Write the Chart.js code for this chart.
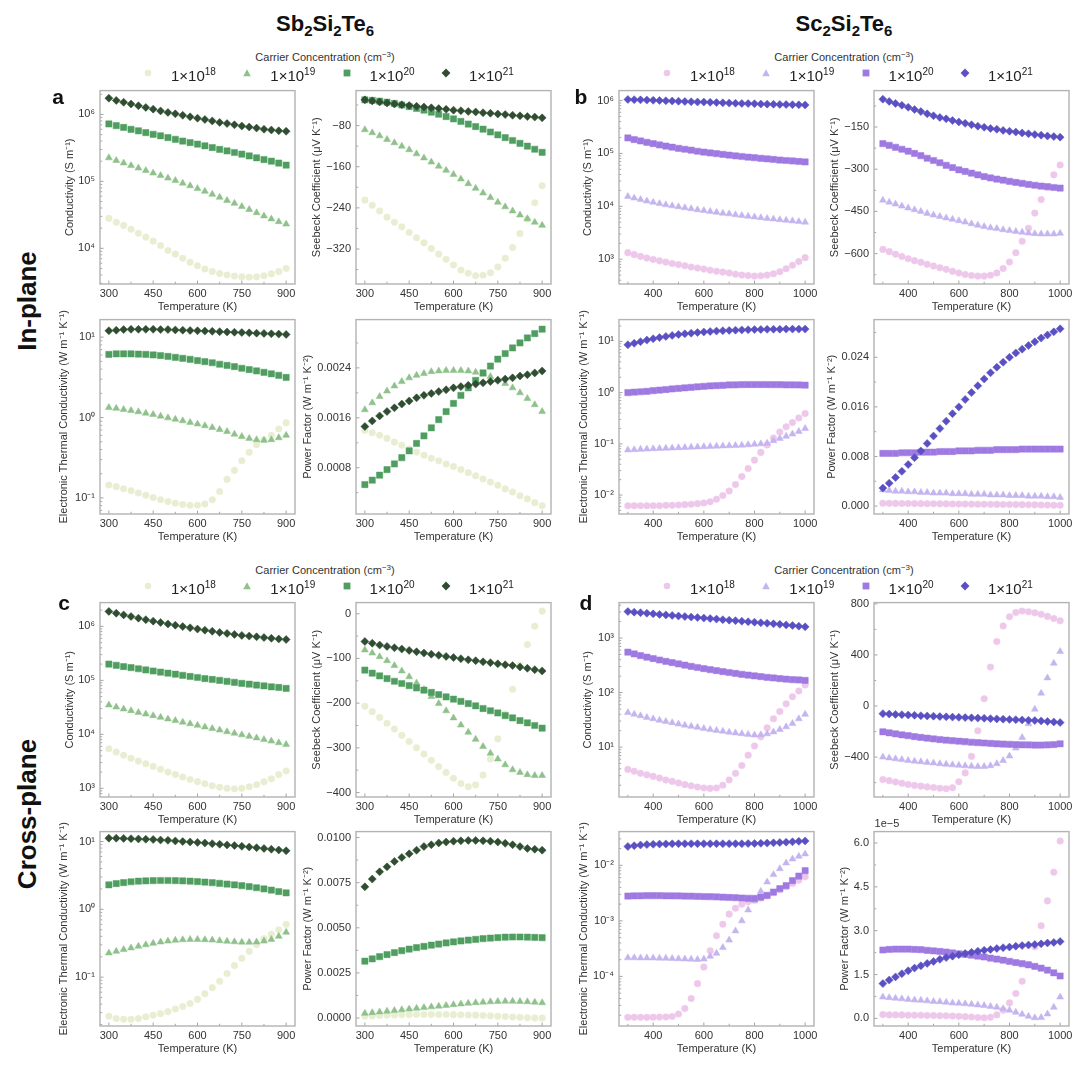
<!DOCTYPE html>
<html><head><meta charset="utf-8">
<script src="https://cdn.jsdelivr.net/npm/chart.js"></script>
<style>
body{margin:0;background:#fff;width:1080px;height:1070px;position:relative;overflow:hidden;font-family:"Liberation Sans",Arial,sans-serif;}
canvas{position:absolute;}
.t{position:absolute;white-space:nowrap;color:#111;transform:translate(-50%,-50%);line-height:1;}
.ttl{font-weight:bold;font-size:22px;}
.ttl sub{font-size:15px;vertical-align:-5px;line-height:0;}
.row{font-weight:bold;font-size:26px;transform:translate(-50%,-50%) rotate(-90deg);}
.let{font-weight:bold;font-size:21px;}
.lt{font-size:11px;color:#333;}
.lt sup{font-size:8px;vertical-align:4px;line-height:0;}
.le{position:absolute;font-size:15px;color:#222;white-space:nowrap;transform:translateY(-50%);line-height:1;}
.le sup{font-size:10px;vertical-align:6px;line-height:0;}
.lm{position:absolute;transform:translate(-50%,-50%);}
</style></head><body>
<script>
// ---------------- data ----------------
const tempSb = [300,325,350,375,400,425,450,475,500,525,550,575,600,625,650,675,700,725,750,775,800,825,850,875,900];
const tempSc = [300,325,350,375,400,425,450,475,500,525,550,575,600,625,650,675,700,725,750,775,800,825,850,875,900,925,950,975,1000];
const sbTempTicks = [300,450,600,750,900];
const scTempTicks = [400,600,800,1000];
const carrierExps = [18,19,20,21];

// (a) Sb2Si2Te6 in-plane
const sbInCond18 = [2.8e4,2.45e4,2.2e4,1.93e4,1.68e4,1.47e4,1.28e4,1.1e4,9.3e3,8.2e3,7.1e3,6.2e3,5.5e3,4.9e3,4.5e3,4.2e3,4.0e3,3.85e3,3.75e3,3.7e3,3.75e3,3.9e3,4.15e3,4.5e3,5.0e3];
const sbInCond19 = [2.25e5,2.05e5,1.88e5,1.72e5,1.58e5,1.45e5,1.33e5,1.22e5,1.12e5,1.03e5,9.4e4,8.6e4,7.8e4,7.1e4,6.4e4,5.8e4,5.2e4,4.7e4,4.2e4,3.8e4,3.4e4,3.05e4,2.75e4,2.5e4,2.3e4];
const sbInCond20 = [7.2e5,6.8e5,6.4e5,6.0e5,5.7e5,5.35e5,5.05e5,4.8e5,4.5e5,4.25e5,4.0e5,3.8e5,3.6e5,3.4e5,3.2e5,3.0e5,2.85e5,2.7e5,2.55e5,2.4e5,2.25e5,2.12e5,2.0e5,1.88e5,1.75e5];
const sbInCond21 = [1.75e6,1.62e6,1.52e6,1.43e6,1.35e6,1.27e6,1.2e6,1.13e6,1.07e6,1.02e6,9.7e5,9.2e5,8.8e5,8.4e5,8.0e5,7.6e5,7.3e5,7.0e5,6.7e5,6.5e5,6.25e5,6.0e5,5.85e5,5.7e5,5.6e5];
const sbInSeeb18 = [-225,-235,-246,-258,-268,-277,-288,-298,-308,-319,-330,-340,-351,-361,-367,-372,-371,-366,-355,-338,-317,-290,-262,-230,-197];
const sbInSeeb19 = [-88,-94,-100,-107,-113.5,-120,-127,-135,-143,-151,-159,-167,-175,-184,-193,-202,-211,-220,-229,-238,-246,-254,-261,-268,-274];
const sbInSeeb20 = [-30,-31,-32.5,-34.5,-37,-40,-43,-46.5,-50,-54,-58,-62.5,-67,-72,-77,-82,-87,-92.5,-98,-103.5,-109,-114.5,-120,-126,-132];
const sbInSeeb21 = [-30,-32,-34,-36,-38,-39.5,-41,-42.5,-44,-45.5,-47,-48.5,-50,-51,-52.5,-53.5,-55,-56,-57.5,-58.5,-60,-61,-62.5,-63.5,-65];
const sbInKe18 = [0.145,0.138,0.13,0.123,0.115,0.108,0.101,0.095,0.09,0.086,0.083,0.081,0.081,0.084,0.095,0.12,0.17,0.22,0.29,0.37,0.46,0.53,0.6,0.72,0.86];
const sbInKe19 = [1.33,1.30,1.26,1.22,1.18,1.13,1.09,1.04,0.99,0.95,0.91,0.87,0.83,0.79,0.75,0.71,0.67,0.62,0.58,0.55,0.53,0.52,0.53,0.56,0.60];
const sbInKe20 = [6.1,6.2,6.2,6.2,6.15,6.1,6.0,5.9,5.75,5.6,5.45,5.3,5.1,4.95,4.8,4.6,4.45,4.3,4.1,3.95,3.8,3.65,3.5,3.35,3.15];
const sbInKe21 = [12.0,12.2,12.4,12.5,12.5,12.5,12.5,12.4,12.4,12.3,12.2,12.1,12.0,11.9,11.8,11.7,11.6,11.5,11.4,11.3,11.2,11.1,11.0,10.9,10.8];
const sbInPf18 = [0.00140,0.00136,0.00132,0.00127,0.00121,0.00116,0.00110,0.00105,0.00100,0.00095,0.00091,0.00086,0.00082,0.00077,0.00072,0.00067,0.00062,0.00057,0.00052,0.00046,0.00041,0.00035,0.00030,0.00024,0.00019];
const sbInPf19 = [0.00173,0.00184,0.00194,0.00203,0.00211,0.00218,0.00224,0.00228,0.00231,0.00234,0.00235,0.00236,0.00236,0.00236,0.00235,0.00233,0.00230,0.00226,0.00221,0.00215,0.00208,0.00200,0.00191,0.00181,0.00170];
const sbInPf20 = [0.00053,0.00060,0.00068,0.00077,0.00086,0.00096,0.00107,0.00119,0.00131,0.00144,0.00157,0.00170,0.00183,0.00196,0.00208,0.00220,0.00232,0.00243,0.00254,0.00263,0.00272,0.00280,0.00288,0.00295,0.00302];
const sbInPf21 = [0.00146,0.00155,0.00163,0.00170,0.00176,0.00182,0.00187,0.00192,0.00196,0.00199,0.00202,0.00205,0.00208,0.00210,0.00212,0.00214,0.00216,0.00218,0.00220,0.00222,0.00224,0.00227,0.00229,0.00232,0.00235];

// (b) Sc2Si2Te6 in-plane
const scInCond18 = [1.33e3,1.22e3,1.13e3,1.05e3,9.9e2,9.3e2,8.8e2,8.3e2,7.9e2,7.5e2,7.1e2,6.8e2,6.5e2,6.2e2,5.9e2,5.7e2,5.5e2,5.2e2,5.0e2,4.9e2,4.8e2,4.85e2,5.0e2,5.3e2,5.8e2,6.6e2,7.7e2,9.0e2,1.07e3];
const scInCond19 = [1.54e4,1.43e4,1.34e4,1.26e4,1.19e4,1.13e4,1.07e4,1.02e4,9.8e3,9.4e3,9.0e3,8.6e3,8.3e3,8.0e3,7.7e3,7.4e3,7.2e3,6.9e3,6.7e3,6.5e3,6.3e3,6.1e3,5.9e3,5.75e3,5.6e3,5.45e3,5.3e3,5.15e3,5.0e3];
const scInCond20 = [1.96e5,1.83e5,1.72e5,1.62e5,1.53e5,1.45e5,1.38e5,1.31e5,1.25e5,1.2e5,1.15e5,1.1e5,1.06e5,1.02e5,9.9e4,9.6e4,9.3e4,9.0e4,8.75e4,8.5e4,8.3e4,8.1e4,7.9e4,7.7e4,7.5e4,7.35e4,7.2e4,7.05e4,6.9e4];
const scInCond21 = [1.05e6,1.04e6,1.03e6,1.02e6,1.01e6,1.0e6,9.9e5,9.8e5,9.7e5,9.6e5,9.5e5,9.4e5,9.35e5,9.25e5,9.15e5,9.05e5,8.95e5,8.9e5,8.8e5,8.75e5,8.7e5,8.6e5,8.55e5,8.5e5,8.45e5,8.4e5,8.35e5,8.3e5,8.25e5];
const scInSeeb18 = [-585,-593,-602,-610,-618,-625,-631,-638,-644,-650,-656,-663,-669,-674,-678,-680,-680,-677,-669,-653,-630,-597,-556,-510,-456,-408,-365,-320,-285];
const scInSeeb19 = [-410,-417,-424,-431,-438,-444,-450,-457,-463,-468,-473,-478,-483,-488,-494,-499,-504,-508,-511,-515,-518,-521,-524,-527,-529,-530,-530,-530,-528];
const scInSeeb20 = [-209,-215,-222,-229,-236,-244,-252,-261,-269,-277,-286,-294,-302,-308,-314,-320,-326,-331,-335,-339,-343,-347,-350,-354,-357,-360,-362,-365,-367];
const scInSeeb21 = [-51,-59,-66,-73,-80,-88,-95,-103,-110,-116,-121,-127,-132,-137,-142,-147,-151,-155,-158,-162,-165,-168,-171,-174,-177,-179,-182,-184,-186];
const scInKe18 = [0.0062,0.0062,0.0062,0.0062,0.0062,0.0062,0.0063,0.0063,0.0064,0.0065,0.0066,0.0068,0.007,0.0074,0.0083,0.0098,0.012,0.016,0.023,0.033,0.048,0.068,0.095,0.13,0.17,0.215,0.26,0.32,0.39];
const scInKe19 = [0.076,0.077,0.078,0.079,0.080,0.081,0.082,0.083,0.084,0.085,0.086,0.087,0.088,0.089,0.090,0.091,0.092,0.093,0.094,0.096,0.098,0.100,0.103,0.115,0.127,0.14,0.155,0.175,0.2];
const scInKe20 = [1.0,1.02,1.04,1.06,1.09,1.12,1.15,1.18,1.21,1.24,1.27,1.30,1.33,1.35,1.37,1.39,1.41,1.42,1.43,1.44,1.44,1.44,1.44,1.43,1.43,1.42,1.42,1.41,1.40];
const scInKe21 = [8.6,9.2,9.9,10.6,11.3,11.9,12.5,13.1,13.6,14.1,14.5,14.9,15.3,15.6,15.9,16.2,16.4,16.6,16.8,16.9,17.0,17.1,17.2,17.3,17.3,17.4,17.4,17.4,17.4];
const scInPf18 = [0.00045,0.00044,0.00043,0.00042,0.00041,0.0004,0.00039,0.00038,0.00037,0.00036,0.00035,0.00034,0.00033,0.00032,0.00031,0.0003,0.00029,0.00028,0.00027,0.00026,0.00025,0.00024,0.00023,0.00021,0.0002,0.00018,0.00016,0.00014,0.00012];
const scInPf19 = [0.0026,0.0025,0.0024,0.0024,0.0023,0.0023,0.0022,0.0022,0.0021,0.0021,0.0021,0.0020,0.0020,0.0020,0.0019,0.0019,0.0019,0.0018,0.0018,0.0018,0.0017,0.0017,0.0017,0.0016,0.0016,0.0016,0.0015,0.0015,0.0014];
const scInPf20 = [0.0085,0.0085,0.0085,0.0086,0.0086,0.0086,0.0087,0.0087,0.0087,0.0088,0.0088,0.0088,0.0089,0.0089,0.0089,0.0090,0.0090,0.0090,0.0091,0.0091,0.0091,0.0091,0.0092,0.0092,0.0092,0.0092,0.0092,0.0092,0.0092];
const scInPf21 = [0.0029,0.0037,0.0046,0.0056,0.0067,0.0078,0.0089,0.0101,0.0113,0.0125,0.0137,0.0149,0.0160,0.0172,0.0183,0.0194,0.0205,0.0215,0.0224,0.0232,0.0240,0.0247,0.0253,0.0259,0.0265,0.0271,0.0276,0.0281,0.0286];

// (c) Sb2Si2Te6 cross-plane
const sbCrCond18 = [5.4e3,4.7e3,4.1e3,3.6e3,3.2e3,2.85e3,2.55e3,2.25e3,2.0e3,1.8e3,1.62e3,1.46e3,1.33e3,1.22e3,1.12e3,1.05e3,1.0e3,9.8e2,1.0e3,1.07e3,1.17e3,1.32e3,1.5e3,1.8e3,2.1e3];
const sbCrCond19 = [3.5e4,3.2e4,2.95e4,2.75e4,2.55e4,2.38e4,2.22e4,2.07e4,1.93e4,1.8e4,1.68e4,1.57e4,1.47e4,1.37e4,1.28e4,1.2e4,1.12e4,1.05e4,9.8e3,9.2e3,8.6e3,8.0e3,7.5e3,7.0e3,6.5e3];
const sbCrCond20 = [2.0e5,1.9e5,1.8e5,1.72e5,1.64e5,1.56e5,1.49e5,1.42e5,1.36e5,1.3e5,1.24e5,1.18e5,1.13e5,1.08e5,1.04e5,1.0e5,9.6e4,9.2e4,8.8e4,8.5e4,8.2e4,7.9e4,7.6e4,7.4e4,7.1e4];
const sbCrCond21 = [1.89e6,1.75e6,1.63e6,1.52e6,1.42e6,1.33e6,1.25e6,1.18e6,1.11e6,1.05e6,9.9e5,9.4e5,8.9e5,8.5e5,8.1e5,7.7e5,7.4e5,7.1e5,6.8e5,6.6e5,6.4e5,6.2e5,6.0e5,5.85e5,5.7e5];
const sbCrSeeb18 = [-207,-219,-232,-245,-258,-272,-286,-300,-314,-328,-342,-355,-368,-380,-387,-383,-361,-325,-280,-224,-169,-115,-69,-28,6];
const sbCrSeeb19 = [-81,-88,-96,-105,-116,-128,-141,-155,-170,-185,-201,-217,-233,-249,-265,-281,-297,-312,-325,-338,-349,-355,-360,-362,-362];
const sbCrSeeb20 = [-126,-133,-139,-145,-151,-156,-161,-166,-171,-176,-181,-186,-191,-196,-201,-206,-212,-217,-222,-228,-233,-239,-244,-250,-256];
const sbCrSeeb21 = [-62,-66,-70,-73,-76,-79,-82,-85,-88,-90.5,-93,-95.5,-98,-100.5,-103,-105,-107.5,-109.5,-112,-114,-116,-119,-122,-125,-128];
const sbCrKe18 = [0.0265,0.0245,0.024,0.024,0.0245,0.026,0.0275,0.029,0.031,0.034,0.037,0.041,0.047,0.057,0.07,0.087,0.113,0.148,0.19,0.24,0.3,0.37,0.43,0.5,0.6];
const sbCrKe19 = [0.227,0.24,0.255,0.27,0.285,0.3,0.315,0.33,0.34,0.35,0.356,0.36,0.36,0.357,0.352,0.345,0.338,0.332,0.328,0.327,0.33,0.34,0.36,0.4,0.46];
const sbCrKe20 = [2.3,2.4,2.48,2.55,2.6,2.63,2.65,2.66,2.66,2.65,2.63,2.6,2.56,2.52,2.47,2.42,2.36,2.3,2.23,2.16,2.08,2.0,1.92,1.83,1.75];
const sbCrKe21 = [11.2,11.2,11.1,11.0,10.9,10.8,10.7,10.5,10.4,10.2,10.0,9.85,9.7,9.5,9.3,9.1,8.9,8.7,8.5,8.3,8.1,7.9,7.7,7.5,7.3];
const sbCrPf18 = [0.0001,0.00012,0.00014,0.00016,0.00017,0.00018,0.00019,0.0002,0.0002,0.0002,0.0002,0.0002,0.00019,0.00018,0.00017,0.00016,0.00014,0.00012,0.0001,0.00008,0.00006,0.00004,0.00002,0.00001,0.0];
const sbCrPf19 = [0.00026,0.0003,0.00034,0.00038,0.00042,0.00046,0.0005,0.00054,0.00058,0.00062,0.00066,0.0007,0.00074,0.00078,0.00082,0.00085,0.00088,0.0009,0.00092,0.00093,0.00093,0.00092,0.0009,0.00088,0.00085];
const sbCrPf20 = [0.00315,0.00328,0.0034,0.00352,0.00363,0.00373,0.00382,0.0039,0.00397,0.00404,0.0041,0.00416,0.00422,0.00427,0.00432,0.00436,0.0044,0.00443,0.00446,0.00448,0.00449,0.00449,0.00448,0.00447,0.00445];
const sbCrPf21 = [0.00727,0.0077,0.0081,0.00838,0.00868,0.0089,0.0091,0.0093,0.0095,0.0096,0.0097,0.00975,0.0098,0.00982,0.00984,0.00984,0.00982,0.0098,0.00975,0.00968,0.0096,0.0095,0.0094,0.00935,0.0093];

// (d) Sc2Si2Te6 cross-plane
const scCrCond18 = [3.9,3.6,3.3,3.1,2.9,2.7,2.5,2.35,2.2,2.05,1.95,1.85,1.78,1.75,1.78,2.0,2.5,3.3,4.6,7.1,10.5,15.4,22.6,33,45,62,84,107,138];
const scCrCond19 = [43,40,37.5,35,33,31,29.5,28,26.5,25.2,24,23,22,21,20.2,19.5,18.8,18.2,17.6,17.1,16.6,16.8,17.5,19,21,23.5,27,33,40];
const scCrCond20 = [550,510,475,445,420,395,373,353,335,318,302,288,275,263,252,242,233,224,216,209,202,196,190,185,180,176,172,170,167];
const scCrCond21 = [3050,2980,2910,2840,2770,2710,2650,2590,2530,2470,2420,2370,2320,2270,2220,2170,2120,2080,2030,1990,1950,1900,1860,1820,1780,1740,1700,1650,1600];
const scCrSeeb18 = [-576,-585,-595,-605,-615,-622,-628,-634,-639,-645,-648,-640,-594,-524,-395,-194,57,305,505,627,699,733,744,738,730,718,702,685,668];
const scCrSeeb19 = [-400,-407,-414,-420,-427,-432,-437,-442,-447,-452,-457,-461,-465,-469,-472,-474,-474,-468,-452,-428,-392,-330,-246,-140,-25,100,220,335,427];
const scCrSeeb20 = [-202,-210,-218,-226,-233,-240,-246,-252,-258,-263,-268,-272,-276,-280,-284,-287,-290,-293,-296,-298,-300,-302,-304,-305,-306,-306,-305,-302,-296];
const scCrSeeb21 = [-60,-63,-66,-68,-71,-73,-76,-78,-80,-83,-85,-87,-89,-91,-93,-95,-97,-99,-101,-103,-105,-107,-109,-112,-114,-117,-121,-125,-130];
const scCrKe18 = [1.83e-5,1.83e-5,1.83e-5,1.83e-5,1.84e-5,1.85e-5,1.86e-5,1.9e-5,2.1e-5,2.65e-5,4.0e-5,7.4e-5,1.47e-4,2.9e-4,5.4e-4,8.7e-4,1.32e-3,1.69e-3,2.0e-3,2.2e-3,2.35e-3,2.55e-3,2.8e-3,3.2e-3,3.6e-3,4.1e-3,4.7e-3,5.4e-3,6.2e-3];
const scCrKe19 = [2.16e-4,2.16e-4,2.15e-4,2.15e-4,2.14e-4,2.13e-4,2.12e-4,2.1e-4,2.08e-4,2.06e-4,2.04e-4,2.02e-4,2.05e-4,2.3e-4,2.6e-4,3.3e-4,4.5e-4,6.6e-4,1.0e-3,1.57e-3,2.3e-3,3.4e-3,5.0e-3,6.8e-3,8.7e-3,1.1e-2,1.3e-2,1.45e-2,1.6e-2];
const scCrKe20 = [0.0028,0.00282,0.00283,0.00284,0.00284,0.00284,0.00283,0.00282,0.00281,0.0028,0.00278,0.00276,0.00274,0.00272,0.0027,0.00267,0.00264,0.00261,0.00258,0.00255,0.00254,0.00268,0.00288,0.0033,0.0038,0.0043,0.0053,0.0064,0.008];
const scCrKe21 = [0.0218,0.0226,0.0232,0.0236,0.0239,0.0241,0.0243,0.0244,0.0245,0.0245,0.0245,0.0245,0.0245,0.0245,0.0245,0.0245,0.0245,0.0245,0.0245,0.0246,0.0247,0.0249,0.0251,0.0254,0.0257,0.0261,0.0265,0.027,0.0275];
const scCrPf18 = [0.13e-5,0.12e-5,0.12e-5,0.12e-5,0.11e-5,0.11e-5,0.11e-5,0.1e-5,0.1e-5,0.09e-5,0.09e-5,0.08e-5,0.07e-5,0.06e-5,0.05e-5,0.03e-5,0.02e-5,0.04e-5,0.12e-5,0.28e-5,0.53e-5,0.85e-5,1.27e-5,1.85e-5,2.45e-5,3.17e-5,4.02e-5,5.0e-5,6.07e-5];
const scCrPf19 = [0.73e-5,0.71e-5,0.69e-5,0.67e-5,0.65e-5,0.63e-5,0.62e-5,0.6e-5,0.58e-5,0.57e-5,0.55e-5,0.53e-5,0.52e-5,0.5e-5,0.48e-5,0.46e-5,0.44e-5,0.41e-5,0.38e-5,0.33e-5,0.28e-5,0.21e-5,0.14e-5,0.07e-5,0.02e-5,0.03e-5,0.15e-5,0.38e-5,0.73e-5];
const scCrPf20 = [2.34e-5,2.36e-5,2.37e-5,2.37e-5,2.37e-5,2.36e-5,2.35e-5,2.33e-5,2.31e-5,2.29e-5,2.27e-5,2.24e-5,2.21e-5,2.19e-5,2.16e-5,2.13e-5,2.1e-5,2.06e-5,2.03e-5,1.99e-5,1.95e-5,1.91e-5,1.87e-5,1.83e-5,1.78e-5,1.72e-5,1.65e-5,1.56e-5,1.45e-5];
const scCrPf21 = [1.19e-5,1.31e-5,1.42e-5,1.53e-5,1.63e-5,1.72e-5,1.8e-5,1.88e-5,1.95e-5,2.02e-5,2.08e-5,2.13e-5,2.18e-5,2.22e-5,2.26e-5,2.3e-5,2.33e-5,2.36e-5,2.39e-5,2.42e-5,2.44e-5,2.47e-5,2.49e-5,2.51e-5,2.53e-5,2.55e-5,2.58e-5,2.6e-5,2.63e-5];

// y tick values
const condTicksA = [1e4,1e5,1e6];
const condTicksB = [1e3,1e4,1e5,1e6];
const condTicksC = [1e3,1e4,1e5,1e6];
const condTicksD = [10,100,1000];
const seebTicksA = [-320,-240,-160,-80];
const seebTicksB = [-600,-450,-300,-150];
const seebTicksC = [-400,-300,-200,-100,0];
const seebTicksD = [-400,0,400,800];
const keTicksA = [0.1,1,10];
const keTicksB = [0.01,0.1,1,10];
const keTicksC = [0.1,1,10];
const keTicksD = [1e-4,1e-3,1e-2];
const pfTicksA = [0.0008,0.0016,0.0024];
const pfTicksB = [0,0.008,0.016,0.024];
const pfTicksC = [0,0.0025,0.005,0.0075,0.01];
const pfTicksD = [0,1.5e-5,3e-5,4.5e-5,6e-5];

// ---------------- styling ----------------
const sbColors = ['#e8eed2','#8fc18b','#4f9e60','#2f4d31'];
const scColors = ['#eec8ea','#c4b4ef','#9e79e1','#5b50c3'];
const pStyles = ['circle','triangle','rect','rectRot'];
const pRadius = [3.3,4.0,4.4,4.0];
const FONT = {family:'"Liberation Sans", Arial, sans-serif', size:11};
const TXT = '#333';

const SUPM = {'-':'\u207b','0':'\u2070','1':'\u00b9','2':'\u00b2','3':'\u00b3','4':'\u2074','5':'\u2075','6':'\u2076','7':'\u2077','8':'\u2078','9':'\u2079'};
const sup = s => String(s).split('').map(c => SUPM[c] || c).join('');
const mns = s => String(s).replace('-', '\u2212');
const fmtLog = v => '10' + sup(Math.round(Math.log10(v)));
const fmtInt = v => mns(String(Math.round(v)));
const fmtFix = n => v => mns((Math.abs(v) < 1e-12 ? 0 : v).toFixed(n));
const fmtE5 = v => (v / 1e-5).toFixed(1);

const framePlugin = {
  id: 'frame',
  afterDatasetsDraw(chart) {
    const {ctx, chartArea: a, scales} = chart;
    const xs = scales.x, ys = scales.y;
    ctx.save();
    ctx.strokeStyle = '#9a9a9a'; ctx.lineWidth = 0.9;
    const tickX = (v, len) => { const p = xs.getPixelForValue(v); if (p < a.left + 0.5 || p > a.right - 0.5) return; ctx.beginPath(); ctx.moveTo(p, a.bottom); ctx.lineTo(p, a.bottom - len); ctx.stroke(); };
    const tickY = (v, len) => { const p = ys.getPixelForValue(v); if (p < a.top + 0.5 || p > a.bottom - 0.5) return; ctx.beginPath(); ctx.moveTo(a.left, p); ctx.lineTo(a.left + len, p); ctx.stroke(); };
    const minorLin = (ticks, lo, hi, f) => { const st = ticks[1] - ticks[0]; for (let v = ticks[0] - st / 2; v < hi; v += st) if (v > lo) f(v, 2.2); };
    xs.ticks.forEach(t => tickX(t.value, 3.5));
    minorLin(xs.ticks.map(t => t.value), xs.min, xs.max, tickX);
    ys.ticks.forEach(t => tickY(t.value, 3.5));
    if (ys.type === 'logarithmic') {
      for (let e = Math.floor(Math.log10(ys.min)); e <= Math.ceil(Math.log10(ys.max)); e++)
        for (let k = 2; k <= 9; k++) { const v = k * Math.pow(10, e); if (v > ys.min && v < ys.max) tickY(v, 2.2); }
    } else {
      minorLin(ys.ticks.map(t => t.value), ys.min, ys.max, tickY);
    }
    ctx.strokeStyle = '#b3b3b3'; ctx.lineWidth = 1.4;
    ctx.strokeRect(a.left, a.top, a.right - a.left, a.bottom - a.top);
    ctx.restore();
  }
};

const T_COND = 'Conductivity (S m\u207b\u00b9)';
const T_SEEB = 'Seebeck Coefficient (\u03bcV K\u207b\u00b9)';
const T_KE = 'Electronic Thermal Conductivity (W m\u207b\u00b9 K\u207b\u00b9)';
const T_PF = 'Power Factor (W m\u207b\u00b9 K\u207b\u00b2)';

const panels = [
  {L:100,T:89,H:195, sb:true, log:true, ymin:Math.pow(10,3.467), ymax:Math.pow(10,6.356), ticks:condTicksA, fmt:fmtLog, title:T_COND, off:30, s:[sbInCond18,sbInCond19,sbInCond20,sbInCond21]},
  {L:356,T:89,H:195, sb:true, log:false, ymin:-388, ymax:-12, ticks:seebTicksA, fmt:fmtInt, title:T_SEEB, off:39, s:[sbInSeeb18,sbInSeeb19,sbInSeeb20,sbInSeeb21]},
  {L:100,T:318,H:196, sb:true, log:true, ymin:Math.pow(10,-1.2), ymax:Math.pow(10,1.218), ticks:keTicksA, fmt:fmtLog, title:T_KE, off:36, s:[sbInKe18,sbInKe19,sbInKe20,sbInKe21]},
  {L:356,T:318,H:196, sb:true, log:false, ymin:0.000058, ymax:0.003174, ticks:pfTicksA, fmt:fmtFix(4), title:T_PF, off:48, s:[sbInPf18,sbInPf19,sbInPf20,sbInPf21]},
  {L:619,T:89,H:195, sb:false, log:true, ymin:Math.pow(10,2.531), ymax:Math.pow(10,6.188), ticks:condTicksB, fmt:fmtLog, title:T_COND, off:31, s:[scInCond18,scInCond19,scInCond20,scInCond21]},
  {L:874,T:89,H:195, sb:false, log:false, ymin:-708, ymax:-20.5, ticks:seebTicksB, fmt:fmtInt, title:T_SEEB, off:39, s:[scInSeeb18,scInSeeb19,scInSeeb20,scInSeeb21]},
  {L:619,T:318,H:196, sb:false, log:true, ymin:Math.pow(10,-2.37), ymax:Math.pow(10,1.426), ticks:keTicksB, fmt:fmtLog, title:T_KE, off:35, s:[scInKe18,scInKe19,scInKe20,scInKe21]},
  {L:874,T:318,H:196, sb:false, log:false, ymin:-0.00128, ymax:0.03008, ticks:pfTicksB, fmt:fmtFix(3), title:T_PF, off:42, s:[scInPf18,scInPf19,scInPf20,scInPf21]},
  {L:100,T:601,H:196, sb:true, log:true, ymin:Math.pow(10,2.84), ymax:Math.pow(10,6.44), ticks:condTicksC, fmt:fmtLog, title:T_COND, off:30, s:[sbCrCond18,sbCrCond19,sbCrCond20,sbCrCond21]},
  {L:356,T:601,H:196, sb:true, log:false, ymin:-410, ymax:25, ticks:seebTicksC, fmt:fmtInt, title:T_SEEB, off:39, s:[sbCrSeeb18,sbCrSeeb19,sbCrSeeb20,sbCrSeeb21]},
  {L:100,T:830,H:196, sb:true, log:true, ymin:Math.pow(10,-1.72), ymax:Math.pow(10,1.146), ticks:keTicksC, fmt:fmtLog, title:T_KE, off:36, s:[sbCrKe18,sbCrKe19,sbCrKe20,sbCrKe21]},
  {L:356,T:830,H:196, sb:true, log:false, ymin:-0.00044, ymax:0.01033, ticks:pfTicksC, fmt:fmtFix(4), title:T_PF, off:48, s:[sbCrPf18,sbCrPf19,sbCrPf20,sbCrPf21]},
  {L:619,T:601,H:196, sb:false, log:true, ymin:Math.pow(10,0.085), ymax:Math.pow(10,3.649), ticks:condTicksD, fmt:fmtLog, title:T_COND, off:31, s:[scCrCond18,scCrCond19,scCrCond20,scCrCond21]},
  {L:874,T:601,H:196, sb:false, log:false, ymin:-713, ymax:810, ticks:seebTicksD, fmt:fmtInt, title:T_SEEB, off:39, s:[scCrSeeb18,scCrSeeb19,scCrSeeb20,scCrSeeb21]},
  {L:619,T:830,H:196, sb:false, log:true, ymin:Math.pow(10,-4.893), ymax:Math.pow(10,-1.393), ticks:keTicksD, fmt:fmtLog, title:T_KE, off:35, s:[scCrKe18,scCrKe19,scCrKe20,scCrKe21]},
  {L:874,T:830,H:196, sb:false, log:false, ymin:-0.26e-5, ymax:6.39e-5, ticks:pfTicksD, fmt:fmtE5, title:T_PF, off:29, s:[scCrPf18,scCrPf19,scCrPf20,scCrPf21]}
];

const PW = 195, PAD_T = 10, PAD_R = 22, XH = 30;

panels.forEach(p => {
  const temps = p.sb ? tempSb : tempSc;
  const xTicks = p.sb ? sbTempTicks : scTempTicks;
  const colors = p.sb ? sbColors : scColors;
  const yw = Math.round(p.off + 6.6);
  const W = yw + PW + PAD_R, H = PAD_T + p.H + XH;
  const cv = document.createElement('canvas');
  cv.width = W; cv.height = H;
  cv.style.left = (p.L - yw) + 'px'; cv.style.top = (p.T - PAD_T) + 'px';
  cv.style.width = W + 'px'; cv.style.height = H + 'px';
  document.body.appendChild(cv);
  new Chart(cv, {
    type: 'scatter',
    data: {
      datasets: p.s.map((vals, i) => ({
        label: '1\u00d710' + sup(carrierExps[i]),
        data: temps.map((t, j) => ({x: t, y: vals[j]})),
        pointStyle: pStyles[i], pointRadius: pRadius[i], pointHoverRadius: pRadius[i],
        backgroundColor: colors[i], borderColor: colors[i], borderWidth: 0.5,
        order: 4 - i
      }))
    },
    options: {
      responsive: false, animation: false, devicePixelRatio: 1, events: [],
      layout: {padding: {left: 0, top: PAD_T, right: PAD_R, bottom: 0}},
      plugins: {legend: {display: false}, tooltip: {enabled: false}},
      scales: {
        x: {
          type: 'linear', min: p.sb ? 270 : 265, max: p.sb ? 930 : 1035,
          afterFit: s => { s.height = XH; },
          afterBuildTicks: s => { s.ticks = xTicks.map(v => ({value: v})); },
          grid: {display: false, drawTicks: false}, border: {display: false},
          ticks: {font: FONT, color: TXT, padding: 3, maxRotation: 0, autoSkip: false, callback: v => String(v)},
          title: {display: true, text: 'Temperature (K)', font: FONT, color: TXT, padding: 0}
        },
        y: {
          type: p.log ? 'logarithmic' : 'linear', min: p.ymin, max: p.ymax,
          afterFit: s => { s.width = yw; },
          afterBuildTicks: s => { s.ticks = p.ticks.map(v => ({value: v})); },
          grid: {display: false, drawTicks: false}, border: {display: false},
          ticks: {font: FONT, color: TXT, padding: 5, autoSkip: false, callback: v => p.fmt(v)},
          title: {display: true, text: p.title, font: FONT, color: TXT, padding: 0}
        }
      }
    },
    plugins: [framePlugin]
  });
});

// ---------------- text, legends ----------------
function addText(html, cls, x, y) {
  const d = document.createElement('div');
  d.className = 't ' + cls; d.innerHTML = html;
  d.style.left = x + 'px'; d.style.top = y + 'px';
  document.body.appendChild(d); return d;
}
addText('Sb<sub>2</sub>Si<sub>2</sub>Te<sub>6</sub>', 'ttl', 325, 24);
addText('Sc<sub>2</sub>Si<sub>2</sub>Te<sub>6</sub>', 'ttl', 844, 24);
addText('In-plane', 'row', 27, 301);
addText('Cross-plane', 'row', 27, 814);
addText('a', 'let', 58, 96);
addText('b', 'let', 581, 96);
addText('c', 'let', 64, 602);
addText('d', 'let', 586, 602);
addText('1e\u22125', 'lt', 887, 823);

const markerSvg = (i, c) => {
  const shapes = [
    `<circle cx="5" cy="5" r="3.3" fill="${c}"/>`,
    `<polygon points="5,1.2 8.8,8.2 1.2,8.2" fill="${c}"/>`,
    `<rect x="1.6" y="1.6" width="6.8" height="6.8" fill="${c}"/>`,
    `<polygon points="5,0.6 9.4,5 5,9.4 0.6,5" fill="${c}"/>`
  ];
  return `<svg width="10" height="10" viewBox="0 0 10 10">${shapes[i]}</svg>`;
};
function legend(cx, y, m0, colors) {
  addText('Carrier Concentration (cm<sup>\u22123</sup>)', 'lt', cx, y - 16);
  carrierExps.forEach((e, i) => {
    const mx = m0 + i * 99.3;
    const m = document.createElement('div');
    m.className = 'lm'; m.innerHTML = markerSvg(i, colors[i]);
    m.style.left = mx + 'px'; m.style.top = y + 'px';
    document.body.appendChild(m);
    const t = document.createElement('div');
    t.className = 'le'; t.innerHTML = '1\u00d710<sup>' + e + '</sup>';
    t.style.left = (mx + 23) + 'px'; t.style.top = (y + 2) + 'px';
    document.body.appendChild(t);
  });
}
legend(325, 73, 148, sbColors);
legend(844, 73, 667, scColors);
legend(325, 586, 148, sbColors);
legend(844, 586, 667, scColors);
</script>
</body></html>
